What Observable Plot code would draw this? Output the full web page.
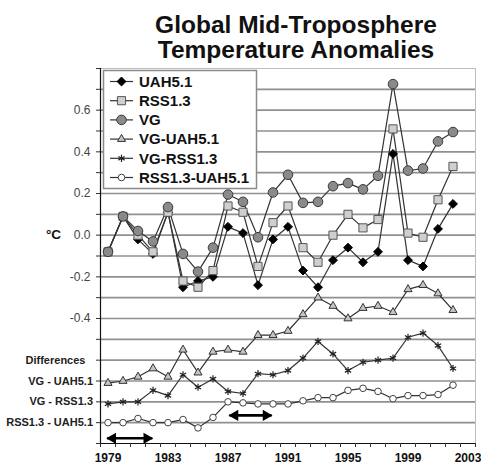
<!DOCTYPE html>
<html>
<head>
<meta charset="utf-8">
<script src="https://cdn.jsdelivr.net/npm/d3@7"></script>
<script src="https://cdn.jsdelivr.net/npm/@observablehq/plot@0.6"></script>
<style>
  body { margin: 0; background: #fff; font-family: "Liberation Sans", Arial, sans-serif; }
  #wrap { position: relative; width: 481px; height: 465px; overflow: hidden; }
  .title { position: absolute; left: 110px; width: 372px; text-align: center; height: 24.5px;
           font-size: 24.5px; font-weight: bold; line-height: 24.5px; color: #111; white-space: nowrap; }
  #legend { position: absolute; left: 0; top: 0; }
</style>
</head>
<body>
<div id="wrap">
  <div id="chart"></div>
  <svg id="legend" width="481" height="465"></svg>
  <div class="title" style="top:13px">Global Mid-Troposphere</div>
  <div class="title" style="top:37.5px">Temperature Anomalies</div>
</div>
<script>
// ---- data ----
const years = [1979,1980,1981,1982,1983,1984,1985,1986,1987,1988,1989,1990,
               1991,1992,1993,1994,1995,1996,1997,1998,1999,2000,2001,2002];
const uah = [-0.08,0.09,-0.02,-0.09,0.11,-0.25,-0.22,-0.20,0.04,0.01,-0.24,-0.02,
             0.04,-0.17,-0.25,-0.12,-0.06,-0.13,-0.08,0.39,-0.12,-0.15,0.03,0.15];
const rss = [-0.08,0.09,0.00,-0.08,0.11,-0.22,-0.25,-0.17,0.14,0.11,-0.15,0.06,
             0.14,-0.06,-0.13,0.00,0.10,0.035,0.075,0.51,0.01,-0.01,0.17,0.33];
const vg  = [-0.08,0.09,0.02,-0.03,0.135,-0.09,-0.175,-0.06,0.195,0.16,-0.01,0.205,
             0.29,0.155,0.16,0.235,0.25,0.22,0.285,0.725,0.31,0.32,0.45,0.495];
const vgMinusUah = [-0.01,0.00,0.02,0.06,0.02,0.15,0.04,0.14,0.15,0.14,0.22,0.22,
                    0.24,0.32,0.40,0.36,0.30,0.35,0.36,0.33,0.44,0.46,0.42,0.34];
const vgMinusRss = [-0.01,0.00,0.00,0.055,0.03,0.13,0.07,0.11,0.05,0.04,0.135,0.13,
                    0.15,0.21,0.29,0.23,0.15,0.19,0.20,0.21,0.31,0.33,0.27,0.16];
const rssMinusUah = [0.00,0.00,0.02,0.00,0.00,0.015,-0.025,0.025,0.10,0.095,0.09,0.09,
                     0.09,0.105,0.12,0.12,0.155,0.165,0.15,0.115,0.13,0.13,0.135,0.18];
const seriesNames = ["UAH5.1","RSS1.3","VG","VG-UAH5.1","VG-RSS1.3","RSS1.3-UAH5.1"];
const diffLabels = ["VG - UAH5.1","VG - RSS1.3","RSS1.3 - UAH5.1"];
const diffHeader = "Differences";
const unitLabel = "°C";
const yTickLabels = [-0.4,-0.2,0.0,0.2,0.4,0.6];
const xTickLabels = [1979,1983,1987,1991,1995,1999,2003];
const periodStart = [1978.95, 1987.1];
const periodEnd   = [1981.95, 1989.9];

// ---- layout constants ----
const diffOffsets = [-0.7, -0.8, -0.9];
const periodRows = [-0.975, -0.865];
const yMin = -1.0, yMax = 0.8;
const gridVals = d3.range(-9, 8).map(k => k / 10);
const tickVals = d3.range(-10, 9).map(k => k / 10);
const yearEdges = d3.range(1978.5, 2004, 1);

const seriesValues = [uah, rss, vg, vgMinusUah, vgMinusRss, rssMinusUah];
const seriesOffset = [0, 0, 0, ...diffOffsets];
const styles = [
  {symbol: "diamond2", r: 4.0, fill: "#000", stroke: "#000", sw: 1},
  {symbol: "square",   r: 4.6, fill: "#cfcfcf", stroke: "#555", sw: 1},
  {symbol: "circle",   r: 4.8, fill: "#8a8a8a", stroke: "#3a3a3a", sw: 1},
  {symbol: "triangle", r: 3.0, fill: "#c4c4c4", stroke: "#333", sw: 1},
  {symbol: "asterisk", r: 3.4, fill: "none", stroke: "#222", sw: 1.2},
  {symbol: "circle",   r: 3.3, fill: "#fff", stroke: "#444", sw: 1}
];
const rows = seriesValues.map((vals, s) =>
  years.map((yr, i) => ({year: yr, v: vals[i] + seriesOffset[s]})));

const font = '"Liberation Sans", Arial, sans-serif';
const marks = [
  Plot.ruleY(gridVals, {stroke: "#909090", strokeWidth: 1.6}),
  Plot.ruleY([yMax], {stroke: "#bdbdbd", strokeWidth: 1}),
  Plot.ruleX([2003.5], {stroke: "#bdbdbd", strokeWidth: 1}),
  Plot.ruleX([1978.5], {stroke: "#111", strokeWidth: 1.2}),
  Plot.ruleY([yMin], {stroke: "#111", strokeWidth: 1.2}),
  Plot.axisY(tickVals, {tickSize: 4, tickFormat: () => "", stroke: "#333", label: null}),
  Plot.axisY(yTickLabels, {tickSize: 0, tickPadding: 10, tickFormat: d => d.toFixed(1),
    fontSize: 12, fill: "#444", label: null}),
  Plot.axisX(yearEdges, {tickSize: 4, tickFormat: () => "", stroke: "#333", label: null}),
  Plot.axisX(xTickLabels, {tickSize: 0, tickPadding: 10, tickFormat: d => String(d),
    fontSize: 12, fontWeight: "bold", fill: "#111", label: null}),
  Plot.text([unitLabel], {y: 0, text: d => d, frameAnchor: "left", dx: -47,
    textAnchor: "middle", fontSize: 13.5, fontWeight: "bold", fill: "#111"}),
  Plot.text([diffHeader], {y: diffOffsets[0] + 0.1, text: d => d, frameAnchor: "left", dx: -45,
    textAnchor: "middle", fontSize: 11, fontWeight: "bold", fill: "#222"}),
  Plot.text(diffLabels, {y: (d, i) => diffOffsets[i], text: d => d, frameAnchor: "left", dx: -7.5,
    textAnchor: "end", fontSize: 11, fontWeight: "bold", fill: "#222"})
];
rows.forEach((data, s) => {
  marks.push(Plot.line(data, {x: "year", y: "v", stroke: "#333", strokeWidth: 1.2}));
});
[3, 4, 5, 0, 1, 2].forEach(s => {
  const st = styles[s];
  marks.push(Plot.dot(rows[s], {x: "year", y: "v", symbol: () => st.symbol, r: st.r,
    fill: st.fill, stroke: st.stroke, strokeWidth: st.sw}));
});
// period arrows
const periods = periodStart.map((a, i) => ({a, b: periodEnd[i], y: periodRows[i]}));
marks.push(Plot.link(periods, {x1: d => d.a, x2: d => d.b, y1: "y", y2: "y",
  stroke: "#000", strokeWidth: 2.6, insetLeft: 4, insetRight: 4}));
marks.push(Plot.dot(periods, {x: "a", y: "y", symbol: "triangle", r: 4.2, rotate: -90,
  fill: "#000", dx: 5.5}));
marks.push(Plot.dot(periods, {x: "b", y: "y", symbol: "triangle", r: 4.2, rotate: 90,
  fill: "#000", dx: -5.5}));

const chart = Plot.plot({
  width: 481, height: 465,
  marginTop: 68, marginBottom: 22, marginLeft: 100, marginRight: 6,
  x: {domain: [1978.5, 2003.5]},
  y: {domain: [yMin, yMax]},
  style: {fontFamily: font, background: "transparent", overflow: "visible"},
  marks
});
document.getElementById("chart").appendChild(chart);

// ---- legend ----
const symMap = {diamond2: d3.symbolDiamond2, square: d3.symbolSquare, circle: d3.symbolCircle,
                triangle: d3.symbolTriangle, asterisk: d3.symbolAsterisk};
const lg = d3.select("#legend");
lg.append("rect").attr("x", 103.5).attr("y", 70.5).attr("width", 153).attr("height", 118)
  .attr("fill", "#fff").attr("stroke", "#8a8a8a").attr("stroke-width", 1.5);
seriesNames.forEach((name, i) => {
  const cy = 81.5 + i * 19.2;
  const st = styles[i];
  lg.append("line").attr("x1", 110).attr("x2", 133).attr("y1", cy).attr("y2", cy)
    .attr("stroke", "#333").attr("stroke-width", 1.2);
  lg.append("path").attr("transform", `translate(121.5,${cy})`)
    .attr("d", d3.symbol(symMap[st.symbol], Math.PI * st.r * st.r)())
    .attr("fill", st.fill).attr("stroke", st.stroke).attr("stroke-width", st.sw);
  lg.append("text").attr("x", 139).attr("y", cy + 5.3).text(name)
    .attr("font-family", font).attr("font-size", 15).attr("font-weight", "bold").attr("fill", "#111");
});
</script>
</body>
</html>
